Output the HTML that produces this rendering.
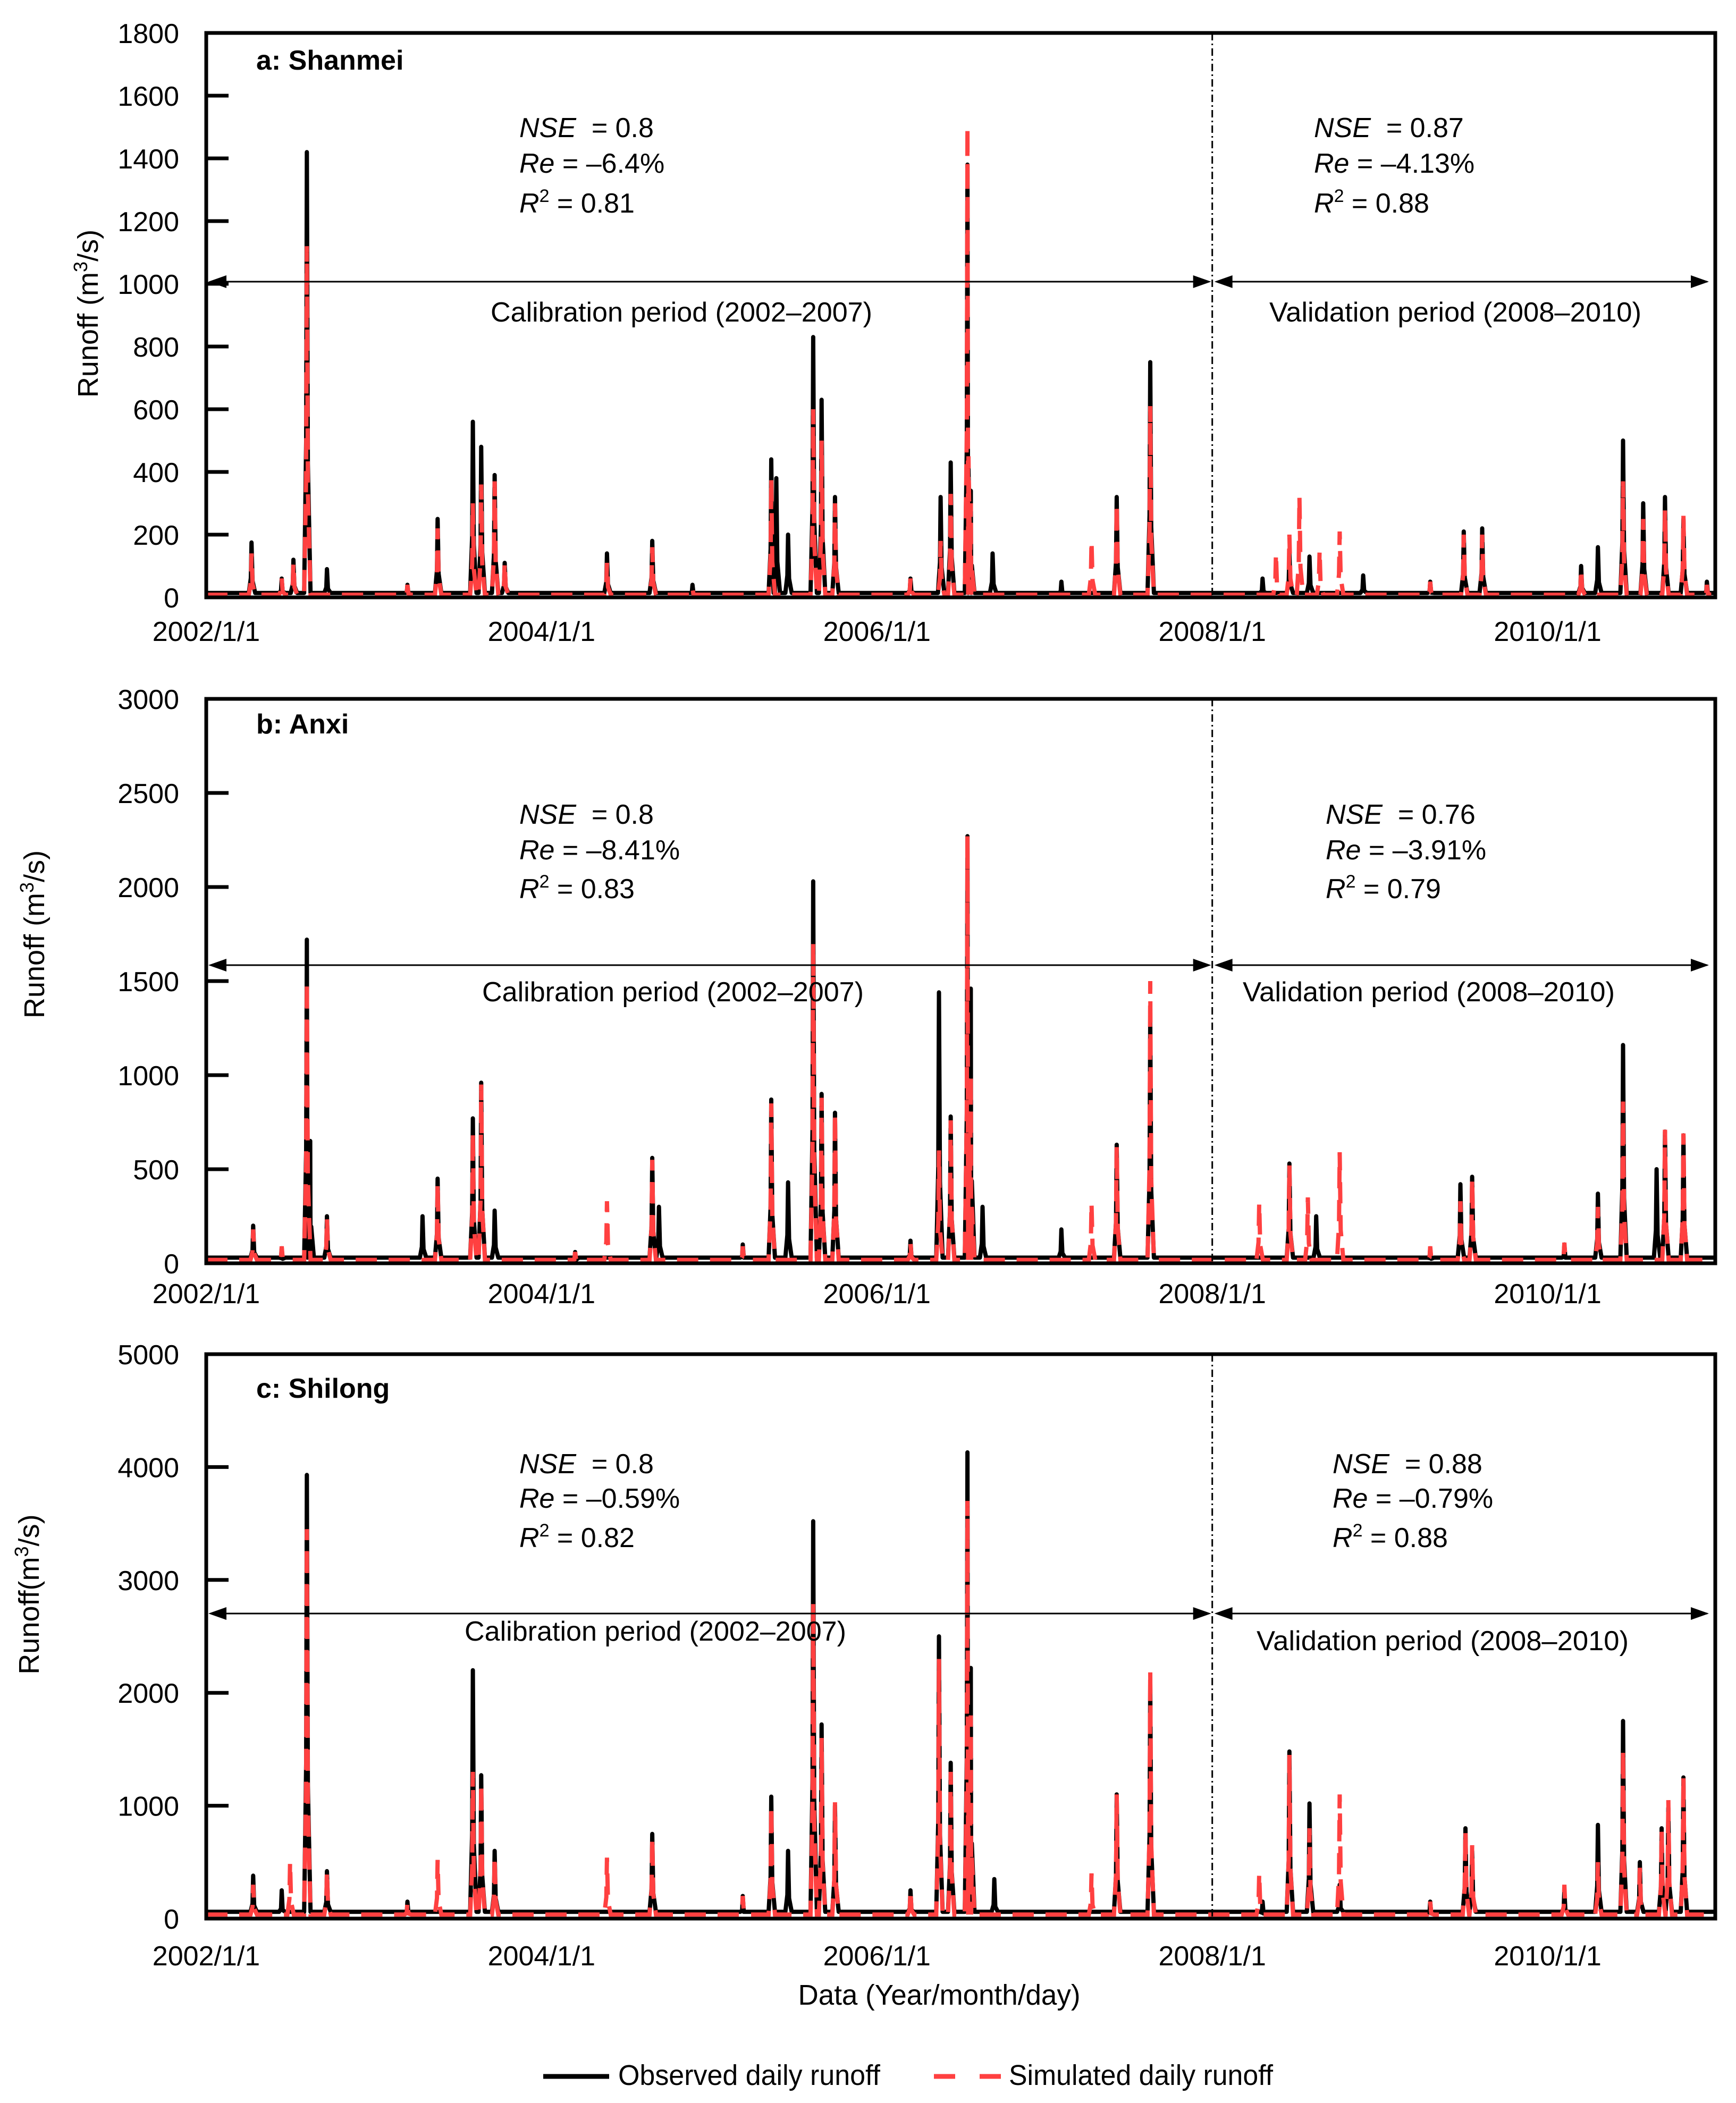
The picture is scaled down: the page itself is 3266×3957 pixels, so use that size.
<!DOCTYPE html>
<html><head><meta charset="utf-8"><style>
html,body{margin:0;padding:0;background:#fff}
svg{display:block;font-family:"Liberation Sans",sans-serif}
text{white-space:pre}
</style></head><body>
<svg id="chart" width="3266" height="3957" viewBox="0 0 3266 3957" xmlns="http://www.w3.org/2000/svg">
<g id="layer"></g>
<text x="1767" y="3772" font-size="54" text-anchor="middle" textLength="531" lengthAdjust="spacingAndGlyphs">Data (Year/month/day)</text>
<g>
<line x1="1022" y1="3907" x2="1146" y2="3907" stroke="#000" stroke-width="9"/>
<text x="1163" y="3923" font-size="54" textLength="493" lengthAdjust="spacingAndGlyphs">Observed daily runoff</text>
<line x1="1757" y1="3907" x2="1883" y2="3907" stroke="#ff4040" stroke-width="9" stroke-dasharray="40,46"/>
<text x="1898" y="3923" font-size="54" textLength="497" lengthAdjust="spacingAndGlyphs">Simulated daily runoff</text>
</g>
</svg>
<script>
// ---- data (t = years since 2002/1/1) ----
const xTickLabels = ["2002/1/1","2004/1/1","2006/1/1","2008/1/1","2010/1/1"];
const xTickYears = [0,2,4,6,8];
const aTicks = [0,200,400,600,800,1000,1200,1400,1600,1800];
const bTicks = [0,500,1000,1500,2000,2500,3000];
const cTicks = [0,1000,2000,3000,4000,5000];
const aBase = [14];
const bBase = [30];
const cBase = [60];
const aObsT = [0.27,0.45,0.52,0.6,0.72,1.2,1.38,1.59,1.64,1.72,1.78,2.39,2.66,2.9,3.37,3.4,3.47,3.62,3.67,3.75,4.2,4.38,4.44,4.54,4.56,4.69,5.1,5.43,5.63,6.3,6.46,6.58,6.9,7.3,7.5,7.61,8.2,8.3,8.45,8.57,8.7,8.81,8.95];
const aObsV = [175,60,120,1420,90,40,250,560,480,390,110,140,180,40,440,380,200,830,630,320,60,320,430,1380,340,140,50,320,750,60,140,130,70,50,210,220,100,160,500,300,320,250,50];
const aSimT = [0.27,0.45,0.52,0.6,1.2,1.38,1.59,1.64,1.72,1.78,2.39,2.66,2.9,3.37,3.62,3.67,3.75,4.2,4.38,4.44,4.54,4.56,5.28,5.43,5.63,6.38,6.46,6.52,6.64,6.76,7.3,7.5,7.61,8.2,8.45,8.57,8.7,8.81,8.95];
const aSimV = [140,60,110,1120,40,220,300,360,370,110,110,160,30,380,600,500,300,60,180,330,1500,300,180,300,610,140,200,320,150,210,50,200,200,90,370,250,280,260,40];
const bObsT = [0.28,0.45,0.6,0.62,0.72,1.29,1.38,1.59,1.64,1.72,2.2,2.66,2.7,3.2,3.37,3.47,3.62,3.67,3.75,4.2,4.37,4.44,4.54,4.56,4.63,5.1,5.43,5.63,6.46,6.62,7.3,7.48,7.55,8.1,8.3,8.45,8.65,8.7,8.81];
const bObsV = [200,80,1720,650,250,250,450,770,960,280,60,560,300,100,870,430,2030,900,800,120,1440,780,2270,1460,300,180,630,1300,530,250,80,420,460,100,370,1160,500,700,680];
const bSimT = [0.28,0.45,0.6,0.72,1.38,1.59,1.64,2.2,2.39,2.66,3.2,3.37,3.62,3.67,3.75,4.2,4.37,4.44,4.54,4.56,5.28,5.43,5.63,6.28,6.46,6.57,6.76,7.3,7.48,7.55,8.1,8.3,8.45,8.7,8.81];
const bSimV = [180,90,1500,240,430,700,950,60,330,550,90,850,1700,880,800,110,600,760,2270,1000,320,620,1500,320,520,350,590,90,330,450,110,300,860,710,690];
const cObsT = [0.28,0.45,0.6,0.72,1.2,1.59,1.64,1.72,2.66,3.2,3.37,3.47,3.62,3.67,3.75,4.2,4.37,4.44,4.54,4.56,4.7,5.43,5.63,6.3,6.46,6.58,6.76,7.3,7.51,7.55,8.1,8.3,8.45,8.55,8.68,8.72,8.81];
const cObsV = [380,250,3930,420,150,2200,1270,600,750,200,1080,600,3520,1720,1000,250,2500,1380,4130,2220,350,1100,2080,150,1480,1020,300,150,800,600,250,830,1750,500,800,980,1250];
const cSimT = [0.28,0.5,0.6,0.72,1.2,1.38,1.59,1.64,1.72,2.39,2.66,3.2,3.37,3.62,3.67,3.75,4.2,4.37,4.44,4.54,4.56,5.28,5.43,5.63,6.28,6.46,6.58,6.76,7.3,7.51,7.55,8.1,8.3,8.45,8.55,8.68,8.72,8.81];
const cSimV = [300,500,3450,420,150,520,1300,1200,550,540,720,200,1000,2800,1600,1030,250,2300,1300,3700,1800,400,1100,2200,400,1450,800,1100,150,780,650,300,500,1500,450,780,1050,1260];

const NS="http://www.w3.org/2000/svg";
const L=388,R=3227,PH=1062;
function xs(t){return L+(R-L)*t/9;}
const layer=document.getElementById('layer');
function mk(tag,attrs,parent){const e=document.createElementNS(NS,tag);for(const k in attrs)e.setAttribute(k,attrs[k]);(parent||layer).appendChild(e);return e;}
function seriesPath(T,V,base,ys){
  let pts=[[0,base],[9,base]];
  for(let i=0;i<T.length;i++){pts.push([T[i]-0.016,base]);pts.push([T[i]-0.004,V[i]*0.35]);pts.push([T[i],V[i]]);pts.push([T[i]+0.006,V[i]*0.3]);pts.push([T[i]+0.022,base]);}
  pts.sort((a,b)=>a[0]-b[0]);
  return pts.map((p,i)=>(i?'L':'M')+xs(Math.max(0,Math.min(9,p[0]))).toFixed(1)+','+ys(p[1]).toFixed(1)).join(' ');
}
const panels=[
 {key:'a',top:62,max:1800,ticks:aTicks,base:aBase[0],oT:aObsT,oV:aObsV,sT:aSimT,sV:aSimV,title:'a: Shanmei',titleY:131,
  st1:{x:977,ys:[258,325,400],v:['0.8','\u20136.4%','0.81']},st2:{x:2472,ys:[258,325,400],v:['0.87','\u20134.13%','0.88']},
  arrowY:530,calX:1282,calY:605,valX:2738,valY:605,xlY:1206,yl:{x:166,y:590,t:'Runoff (m'}},
 {key:'b',top:1315,max:3000,ticks:bTicks,base:bBase[0],oT:bObsT,oV:bObsV,sT:bSimT,sV:bSimV,title:'b: Anxi',titleY:1380,
  st1:{x:977,ys:[1550,1617,1690],v:['0.8','\u20138.41%','0.83']},st2:{x:2494,ys:[1550,1617,1690],v:['0.76','\u20133.91%','0.79']},
  arrowY:1816,calX:1266,calY:1884,valX:2688,valY:1884,xlY:2452,yl:{x:65,y:1758,t:'Runoff (m'}},
 {key:'c',top:2548,max:5000,ticks:cTicks,base:cBase[0],oT:cObsT,oV:cObsV,sT:cSimT,sV:cSimV,title:'c: Shilong',titleY:2630,
  st1:{x:977,ys:[2772,2837,2911],v:['0.8','\u20130.59%','0.82']},st2:{x:2507,ys:[2772,2837,2911],v:['0.88','\u20130.79%','0.88']},
  arrowY:3036,calX:1233,calY:3087,valX:2714,valY:3105,xlY:3698,yl:{x:55,y:3000,t:'Runoff(m'}}
];
panels.forEach(p=>{
  const g=mk('g',{});
  
  
  const bot=p.top+PH;
  const ys=v=>bot-PH*v/p.max;
  const obs=mk('path',{d:seriesPath(p.oT,p.oV,p.base,ys),fill:'none',stroke:'#000','stroke-width':8,'stroke-linejoin':'round'},g);
  
  
  const sim=mk('path',{d:seriesPath(p.sT,p.sV,p.base*0.6,ys),fill:'none',stroke:'#ff4040','stroke-width':8,'stroke-dasharray':'40,22'},g);
  
  
  const fr=mk('rect',{x:L,y:p.top,width:R-L,height:PH,fill:'none',stroke:'#000','stroke-width':7},g);
  
  
  p.ticks.forEach(v=>{
    const y=ys(v);
    if(v>0&&v<p.max){const tk=mk('line',{x1:L,x2:L+42,y1:y,y2:y,stroke:'#000','stroke-width':7},g);
      
      }
    const tl=mk('text',{x:337,y:y+19,'font-size':52,'text-anchor':'end'},g);
    tl.textContent=v;
    
    
  });
  xTickYears.forEach((yr,i)=>{
    const tl=mk('text',{x:xs(yr),y:p.xlY,'font-size':52,'text-anchor':'middle'},g);
    tl.textContent=xTickLabels[i];
    
    
  });
  const yt=mk('text',{transform:`translate(${p.yl.x+18},${p.yl.y}) rotate(-90)`,'font-size':54,'text-anchor':'middle'},g);
  yt.innerHTML=p.yl.t+'<tspan dy="-20" font-size="36">3</tspan><tspan dy="20">/s)</tspan>';
  
  
  const tt=mk('text',{x:482,y:p.titleY,'font-size':52,'font-weight':'bold'},g);
  tt.textContent=p.title;
  
  
  const dv=mk('line',{x1:xs(6),x2:xs(6),y1:p.top,y2:bot,stroke:'#000','stroke-width':3,'stroke-dasharray':'14,6,3,6'},g);
  
  
  const ay=p.arrowY;
  const ar=mk('g',{},g);
  
  
  mk('line',{x1:L+10,x2:xs(6)-10,y1:ay,y2:ay,stroke:'#000','stroke-width':3},ar);
  mk('line',{x1:xs(6)+10,x2:R-15,y1:ay,y2:ay,stroke:'#000','stroke-width':3},ar);
  const tri=(x,dir)=>mk('polygon',{points:`${x},${ay} ${x+dir*34},${ay-12} ${x+dir*34},${ay+12}`,fill:'#000'},ar);
  tri(L+4,1); tri(xs(6)-2,-1); tri(xs(6)+4,1); tri(R-12,-1);
  const ct=mk('text',{x:p.calX,y:p.calY,'font-size':52,'text-anchor':'middle',textLength:718,lengthAdjust:'spacingAndGlyphs'},g);
  ct.textContent='Calibration period (2002\u20132007)';
  
  
  const vt=mk('text',{x:p.valX,y:p.valY,'font-size':52,'text-anchor':'middle',textLength:700,lengthAdjust:'spacingAndGlyphs'},g);
  vt.textContent='Validation period (2008\u20132010)';
  
  
  [p.st1,p.st2].forEach((s,k)=>{
    const sg=mk('g',{'font-size':52},g);
    
    
    const t1=mk('text',{x:s.x,y:s.ys[0]},sg);
    t1.innerHTML='<tspan font-style="italic">NSE</tspan>  = '+s.v[0];
    const t2=mk('text',{x:s.x,y:s.ys[1]},sg);
    t2.innerHTML='<tspan font-style="italic">Re</tspan> = '+s.v[1];
    const t3=mk('text',{x:s.x,y:s.ys[2]},sg);
    t3.innerHTML='<tspan font-style="italic">R</tspan><tspan dy="-20" font-size="34">2</tspan><tspan dy="20"> = '+s.v[2]+'</tspan>';
  });
});
</script>
</body></html>
